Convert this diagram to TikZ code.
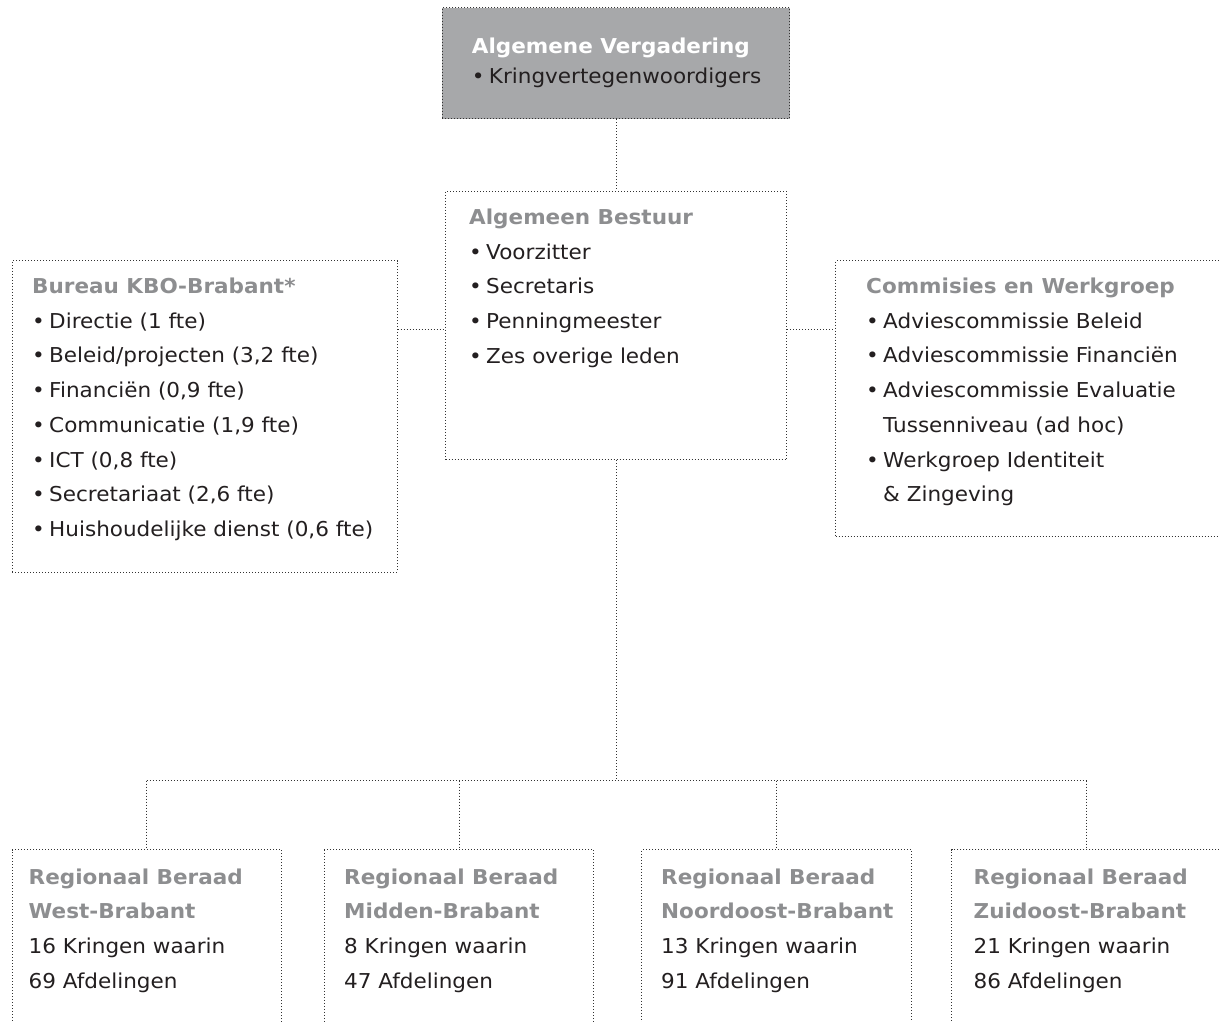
\documentclass[tikz,border=0pt]{standalone}
\usepackage{fontspec}
\setmainfont{DejaVu Sans}[FakeStretch=1.05]
\definecolor{boxfill}{HTML}{A7A8AA}
\definecolor{titlegray}{HTML}{8D8E90}
\definecolor{bodytext}{HTML}{231F20}
\definecolor{dotline}{HTML}{333333}
\tikzset{
  box/.style={draw=dotline, line width=1pt, dash pattern=on 1pt off 2pt, inner sep=0pt, anchor=north west},
  conn/.style={draw=dotline, line width=1pt, dash pattern=on 1pt off 2pt},
  txt/.style={anchor=base west, inner sep=0pt, font=\fontsize{20.5}{24}\selectfont, text=bodytext},
  ttl/.style={txt, font=\fontsize{20.5}{24}\selectfont\bfseries, text=titlegray},
}
\newcommand{\bul}{\textbullet\kern-2.5pt\ }
\newcommand{\bulsp}{\hphantom{\textbullet\kern-2.5pt\ }}
\begin{document}
\begin{tikzpicture}[x=1pt,y=-1pt]
\clip (0,0) rectangle (1219,1021);
\fill[white] (0,0) rectangle (1219,1021);
% boxes
\node[box, fill=boxfill, minimum width=347.6pt, minimum height=111pt] (av) at (441.7,7.3) {};
\node[box, minimum width=341pt, minimum height=268.3pt] (ab) at (445,190.7) {};
\node[box, minimum width=385pt, minimum height=311.7pt] (bur) at (11.7,260) {};
\node[box, minimum width=385pt, minimum height=276pt] (com) at (835,260) {};
\node[box, minimum width=269.3pt, minimum height=200pt] (r1) at (11.7,849.3) {};
\node[box, minimum width=269pt, minimum height=200pt] (r2) at (324,849.3) {};
\node[box, minimum width=270pt, minimum height=200pt] (r3) at (641,849.3) {};
\node[box, minimum width=269.4pt, minimum height=200pt] (r4) at (951,849.3) {};
% connectors
\coordinate (lvl) at (0,329);
\coordinate (hub) at (616,780.7);
\draw[conn] (av.south) -- (ab.north);
\draw[conn] (bur.east |- lvl) -- (ab.west |- lvl);
\draw[conn] (ab.east |- lvl) -- (com.west |- lvl);
\draw[conn] (ab.south) -- (ab.south |- hub);
\draw[conn] (r1.north |- hub) -- (r4.north |- hub);
\draw[conn] (r1.north |- hub) -- (r1.north);
\draw[conn] (r2.north |- hub) -- (r2.north);
\draw[conn] (r3.north |- hub) -- (r3.north);
\draw[conn] (r4.north |- hub) -- (r4.north);
% Algemene Vergadering
\node[ttl, text=white] (avt) at (471.7,53.3) {Algemene Vergadering};
\node[txt] (av1) at (471.7,83.5) {\bul Kringvertegenwoordigers};
% Algemeen Bestuur
\node[ttl] (abt) at (469,224.5) {Algemeen Bestuur};
\foreach \t [count=\i] in {Voorzitter, Secretaris, Penningmeester, Zes overige leden}
  \node[txt] (ab\i) at (469,224.5+34.7*\i) {\bul\t};
% Bureau
\node[ttl] (burt) at (32,293.5) {Bureau KBO-Brabant*};
\foreach \t [count=\i] in {Directie (1 fte), Beleid/projecten (3{,}2 fte), Financiën (0{,}9 fte), Communicatie (1{,}9 fte), ICT (0{,}8 fte), Secretariaat (2{,}6 fte), Huishoudelijke dienst (0{,}6 fte)}
  \node[txt] (bur\i) at (32,293.5+34.7*\i) {\bul\t};
% Commisies
\node[ttl] (comt) at (866,293.5) {Commisies en Werkgroep};
\node[txt] (com1) at (866,328.2) {\bul Adviescommissie Beleid};
\node[txt] (com2) at (866,362.9) {\bul Adviescommissie Financiën};
\node[txt] (com3) at (866,397.6) {\bul Adviescommissie Evaluatie};
\node[txt] (com4) at (866,432.3) {\bulsp Tussenniveau (ad hoc)};
\node[txt] (com5) at (866,467.0) {\bul Werkgroep Identiteit};
\node[txt] (com6) at (866,501.7) {\bulsp\& Zingeving};
% Regional boxes
\foreach \n/\x/\reg/\k/\a in {1/28.5/West-Brabant/16/69, 2/344/Midden-Brabant/8/47, 3/661/Noordoost-Brabant/13/91, 4/973.5/Zuidoost-Brabant/21/86} {
  \node[ttl] (r\n t1) at (\x,884) {Regionaal Beraad};
  \node[ttl] (r\n t2) at (\x,918.7) {\reg};
  \node[txt] (r\n l1) at (\x,953.4) {\k\ Kringen waarin};
  \node[txt] (r\n l2) at (\x,988.1) {\a\ Afdelingen};
}
\end{tikzpicture}
\end{document}
